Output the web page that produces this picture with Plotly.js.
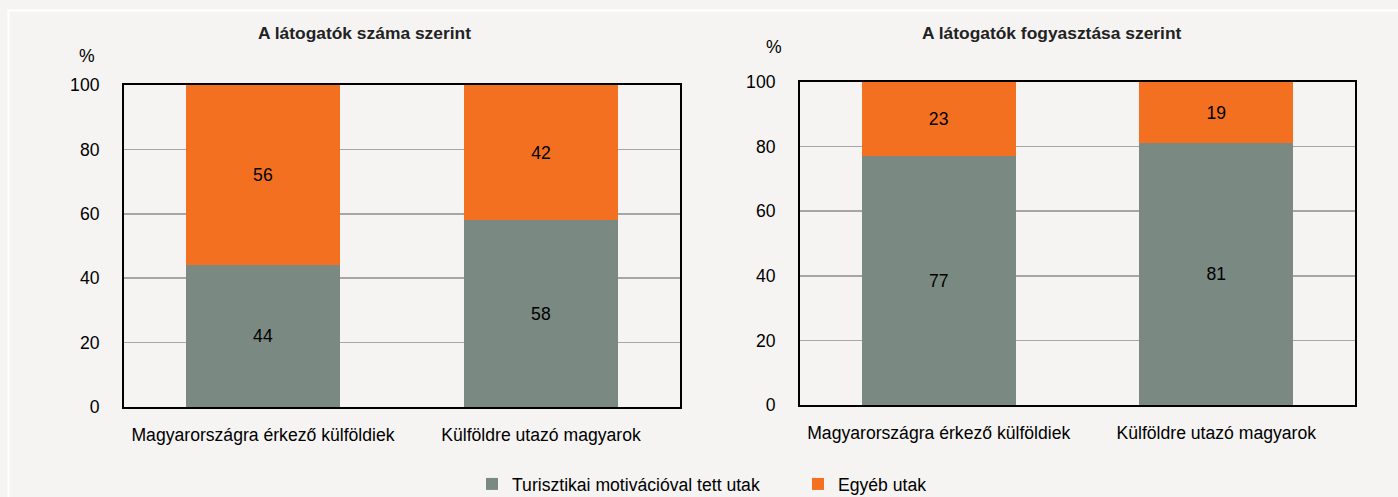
<!DOCTYPE html>
<html>
<head>
<meta charset="utf-8">
<script src="https://cdn.plot.ly/plotly-3.0.1.min.js"></script>
<style>html,body{margin:0;padding:0;background:#f5f4f2;}</style>
</head>
<body>
<div id="chart" style="width:1398px;height:497px;"></div>
<script>
const categories = ["Magyarországra érkező külföldiek", "Külföldre utazó magyarok"];
const seriesNames = ["Turisztikai motivációval tett utak", "Egyéb utak"];
const countTourist = [44, 58];
const countOther = [56, 42];
const spendTourist = [77, 81];
const spendOther = [23, 19];
const panelTitles = ["A látogatók száma szerint", "A látogatók fogyasztása szerint"];
const yTicks = [0, 20, 40, 60, 80, 100];

const colGray = "#7a8a82";
const colOrange = "#f37021";
const W = 1398, H = 497;
const font = "Liberation Sans, Arial, sans-serif";
const fs = 17.6;

function bar(x, y, name, color, xa, ya, showlegend) {
  return {
    type: "bar", x: x, y: y, name: name, xaxis: xa, yaxis: ya,
    marker: {color: color, line: {width: 0}},
    text: y.map(String), textposition: "inside", insidetextanchor: "middle",
    textfont: {family: font, size: fs, color: "#000"},
    showlegend: showlegend, legendgroup: name, hoverinfo: "skip"
  };
}

const data = [
  bar(categories, countTourist, seriesNames[0], colGray, "x", "y", true),
  bar(categories, countOther, seriesNames[1], colOrange, "x", "y", true),
  bar(categories, spendTourist, seriesNames[0], colGray, "x2", "y2", false),
  bar(categories, spendOther, seriesNames[1], colOrange, "x2", "y2", false)
];

function xax(l, r) {
  return {domain: [l / W, r / W], showline: true, linecolor: "#000", linewidth: 2, mirror: true,
    showgrid: false, ticks: "", tickangle: 0, tickfont: {family: font, size: fs, color: "#000"},
    ticklabelstandoff: 11, fixedrange: true, automargin: false};
}
function yax(top, bottom, anchor) {
  return {domain: [(H - bottom) / H, (H - top) / H], range: [0, 100], tickvals: yTicks,
    showline: true, linecolor: "#000", linewidth: 2, mirror: true,
    showgrid: true, gridcolor: "#a6a6a6", gridwidth: 1.5, zeroline: false,
    ticks: "", ticklabelstandoff: 19, anchor: anchor, automargin: false,
    tickfont: {family: font, size: fs, color: "#000"}, fixedrange: true};
}

const layout = {
  width: W, height: H,
  margin: {l: 0, r: 0, t: 0, b: 0, autoexpand: false},
  paper_bgcolor: "#f5f4f2", plot_bgcolor: "#f5f4f2",
  barmode: "stack", bargap: 0.446,
  font: {family: font, size: fs, color: "#000"},
  xaxis: xax(124, 680),
  yaxis: yax(85, 407, "x"),
  xaxis2: Object.assign(xax(800, 1355), {anchor: "y2"}),
  yaxis2: yax(82, 405, "x2"),
  showlegend: true,
  legend: {orientation: "h", x: 472 / W, xanchor: "left", y: 1 - 484 / H, yanchor: "middle",
    entrywidth: 281, bgcolor: "rgba(0,0,0,0)", font: {family: font, size: fs, color: "#000"},
    traceorder: "normal"},
  annotations: [
    {text: "<b>" + panelTitles[0] + "</b>", xref: "paper", yref: "paper", x: 364 / W, y: 1 - 33 / H,
      xanchor: "center", yanchor: "middle", showarrow: false, font: {family: font, size: 17.4, color: "#222"}},
    {text: "<b>" + panelTitles[1] + "</b>", xref: "paper", yref: "paper", x: 1052 / W, y: 1 - 33 / H,
      xanchor: "center", yanchor: "middle", showarrow: false, font: {family: font, size: 17.4, color: "#222"}},
    {text: "%", xref: "paper", yref: "paper", x: 87 / W, y: 1 - 56 / H,
      xanchor: "center", yanchor: "middle", showarrow: false, font: {family: font, size: fs, color: "#000"}},
    {text: "%", xref: "paper", yref: "paper", x: 774 / W, y: 1 - 47 / H,
      xanchor: "center", yanchor: "middle", showarrow: false, font: {family: font, size: fs, color: "#000"}}
  ],
  shapes: [
    {type: "rect", xref: "paper", yref: "paper", x0: 8.5 / W, x1: 1.05, y0: -0.05, y1: 1 - 10.5 / H,
      line: {color: "#ffffff", width: 2}, layer: "below"}
  ]
};

Plotly.newPlot("chart", data, layout, {displayModeBar: false, staticPlot: true});
</script>
</body>
</html>
